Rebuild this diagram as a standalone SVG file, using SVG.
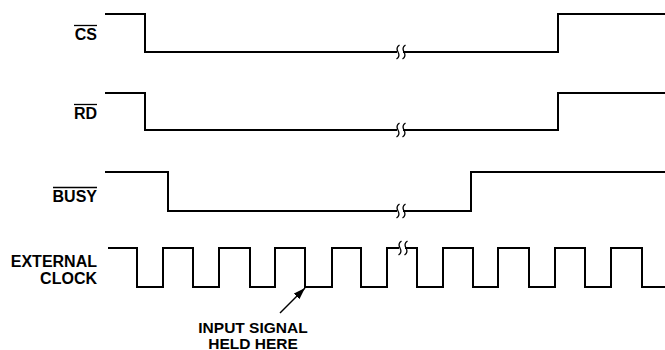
<svg xmlns="http://www.w3.org/2000/svg" width="665" height="350" viewBox="0 0 665 350">
<style>
.sig{fill:none;stroke:#000;stroke-width:2;stroke-linejoin:miter;stroke-linecap:butt}
.brk{fill:none;stroke:#000;stroke-width:1.3}
.gap{fill:#fff;stroke:none}
.lbl{font-family:"Liberation Sans",Arial,sans-serif;font-weight:bold;font-size:15.5px;fill:#000}
.big{font-size:16px}
.ovl{stroke:#000;stroke-width:1.3}
</style>
<defs>
<marker id="ah" viewBox="0 0 12 8" refX="12" refY="4" markerWidth="12" markerHeight="8" markerUnits="userSpaceOnUse" orient="auto">
<path d="M0,0 L12,4 L0,8 Z" fill="#000"/>
</marker>
<g id="brkmark">
<rect class="gap" x="-1" y="-4" width="6" height="8"/>
<path class="brk" d="M1.5,-7 Q-2.5,-4.5 0,0 Q2.5,4.5 -1.5,7"/>
<path class="brk" d="M7.5,-7 Q3.5,-4.5 6,0 Q8.5,4.5 4.5,7"/>
</g>
</defs>
<rect width="665" height="350" fill="#fff"/>
<g id="cs">
<text class="lbl big" x="97" y="40" text-anchor="end">CS</text>
<line class="ovl" x1="74" y1="25.5" x2="97" y2="25.5"/>
<path class="sig" d="M105,14 H145 V52 H558 V14 H665"/>
<use href="#brkmark" x="398" y="52"/>
</g>
<g id="rd">
<text class="lbl big" x="97" y="119" text-anchor="end">RD</text>
<line class="ovl" x1="74" y1="104.5" x2="97" y2="104.5"/>
<path class="sig" d="M105,93 H145 V130 H558 V93 H665"/>
<use href="#brkmark" x="398" y="130"/>
</g>
<g id="busy">
<text class="lbl big" x="97" y="202" text-anchor="end">BUSY</text>
<line class="ovl" x1="53" y1="187.5" x2="97" y2="187.5"/>
<path class="sig" d="M105,172 H168 V211 H471 V172 H665"/>
<use href="#brkmark" x="398" y="211"/>
</g>
<g id="clock">
<text class="lbl big" x="97" y="266.5" text-anchor="end">EXTERNAL</text>
<text class="lbl big" x="97" y="283.5" text-anchor="end">CLOCK</text>
<path class="sig" d="M108,248 H137 V287 H163 V248 H193 V287 H219 V248 H250 V287 H275 V248 H305 V287 H332 V248 H361 V287 H387 V248 H417 V287 H443 V248 H473 V287 H498 V248 H529 V287 H555 V248 H585 V287 H611 V248 H642 V287 H665"/>
<use href="#brkmark" x="400" y="248"/>
</g>
<g id="note">
<text class="lbl" x="253" y="332.5" text-anchor="middle">INPUT SIGNAL</text>
<text class="lbl" x="253" y="348.5" text-anchor="middle">HELD HERE</text>
</g>
<g id="connectors">
<line x1="280" y1="313" x2="305" y2="288" stroke="#000" stroke-width="1.5" marker-end="url(#ah)"/>
</g>
</svg>
